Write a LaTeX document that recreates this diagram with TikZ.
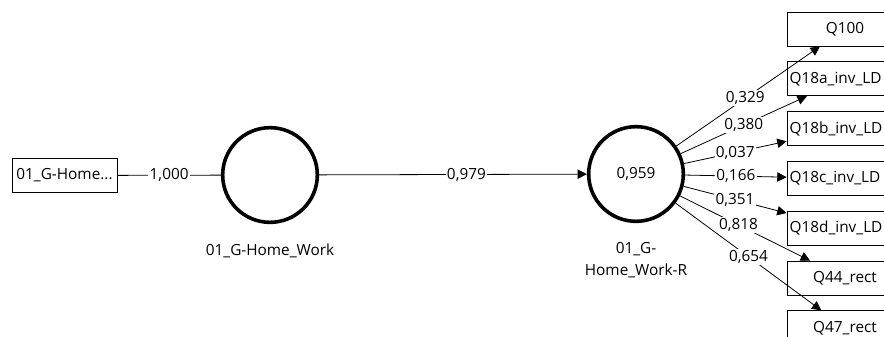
\documentclass[tikz,border=0pt]{standalone}
\usepackage{fontspec}
\setmainfont{Open Sans}
\usetikzlibrary{arrows.meta,positioning}

\begin{document}
\begin{tikzpicture}[x=0.75pt, y=-0.75pt,
    indicator/.style={rectangle, draw, line width=0.6pt, text width=83pt, inner xsep=2pt, minimum height=25.5pt, align=center, font=\fontsize{11.5}{13}\selectfont},
    construct/.style={circle, draw, line width=2.7pt, minimum size=71pt, inner sep=0pt, font=\fontsize{11.5}{13}\selectfont},
    caption/.style={align=center, font=\fontsize{11.5}{16.5}\selectfont},
    weight/.style={fill=white, inner sep=1pt, font=\fontsize{11.5}{13}\selectfont},
    arrow/.style={-{Triangle[length=7pt,width=7pt]}, line width=0.6pt}
  ]
    \useasboundingbox (0,0) rectangle (884,336);
    \clip (0,0) rectangle (884,336);
    % single item of the first construct
    \node[indicator, text width=74.75pt, minimum height=26pt] (hwitem) at (64.5,175.5) {01\_G-Home...};
    \node[construct] (hw) at (270,175) {};
    \node[caption, below=11pt of hw] (hwname) {01\_G-Home\_Work};
    \node[construct] (hwr) at (636,174) {0,959};
    \node[caption, below=11pt of hwr] (hwrname) {01\_G-\\Home\_Work-R};
    % items of the second construct
    \node[indicator] (q100) at (845,29) {Q100};
    \node[indicator, align=left, below=11.25pt of q100] (q18a) {Q18a\_inv\_LD};
    \node[indicator, align=left, below=11.25pt of q18a] (q18b) {Q18b\_inv\_LD};
    \node[indicator, align=left, below=11.25pt of q18b] (q18c) {Q18c\_inv\_LD};
    \node[indicator, align=left, below=11.25pt of q18c] (q18d) {Q18d\_inv\_LD};
    \node[indicator, below=11.25pt of q18d] (q44) {Q44\_rect};
    \node[indicator, below=11.25pt of q44] (q47) {Q47\_rect};
    \draw[line width=0.6pt] (hwitem) -- node[weight] {1,000} (hw);
    \draw[arrow] (hw) -- node[weight, pos=0.55] {0,979} (hwr);
    \draw[arrow] (hwr) -- node[weight, pos=0.48] {0,329} (q100);
    \draw[arrow] (hwr) -- node[weight, pos=0.5] {0,380} (q18a);
    \draw[arrow] (hwr) -- node[weight] {0,037} (q18b);
    \draw[arrow] (hwr) -- node[weight] {0,166} (q18c);
    \draw[arrow] (hwr) -- node[weight] {0,351} (q18d);
    \draw[arrow] (hwr) -- node[weight, pos=0.45] {0,818} (q44);
    \draw[arrow] (hwr) -- node[weight] {0,654} (q47);
  \end{tikzpicture}
\end{document}
